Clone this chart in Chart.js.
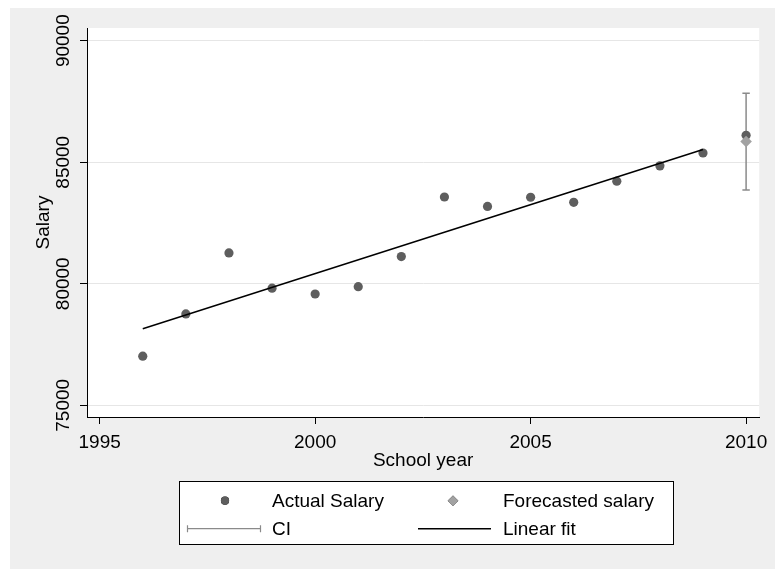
<!DOCTYPE html>
<html>
<head>
<meta charset="utf-8">
<script src="https://cdn.jsdelivr.net/npm/chart.js@4/dist/chart.umd.min.js"></script>
<style>
  html, body { margin: 0; padding: 0; background: #efefef; overflow: hidden; }
  #wrap { position: absolute; left: 10px; top: 8px; width: 765px; height: 561px; overflow: hidden; }
  #myChart { display: block; }
  .edgeTop { position: fixed; left: 0; top: 0; right: 0; height: 8px; background: #fff; }
  .edgeLeft { position: fixed; left: 0; top: 0; bottom: 0; width: 10px; background: #fff; }
</style>
</head>
<body>
<div class="edgeTop"></div>
<div class="edgeLeft"></div>
<div id="wrap"><canvas id="myChart" width="765" height="561"></canvas></div>
<script>
// data
const years = [1996, 1997, 1998, 1999, 2000, 2001, 2002, 2003, 2004, 2005, 2006, 2007, 2008, 2009, 2010];
const actualSalary = [77020, 78760, 81270, 79820, 79580, 79880, 81120, 83570, 83180, 83560, 83350, 84220, 84850, 85380, 86110];
const forecastYears = [2010];
const forecastSalary = [85850];
const ciLow = [83860];
const ciHigh = [87840];
const fitYears = [1996, 2009];
const fitSalary = [78150, 85520];
const xTicks = [1995, 2000, 2005, 2010];
const yTicks = [75000, 80000, 85000, 90000];

Chart.defaults.font.family = '"Liberation Sans", Arial, sans-serif';
Chart.defaults.font.size = 19;
Chart.defaults.color = '#000';

// gray outer area + white plot region
const bgPlugin = {
  id: 'bg',
  beforeDraw(chart) {
    const c = chart.ctx, a = chart.chartArea;
    c.save();
    c.fillStyle = '#efefef';
    c.fillRect(0, 0, chart.width, chart.height);
    c.fillStyle = '#fff';
    c.fillRect(a.left, a.top, a.right - a.left, a.bottom - a.top);
    c.restore();
  }
};

// stata style legend box, 2 columns
const legendPlugin = {
  id: 'stataLegend',
  afterDraw(chart) {
    const c = chart.ctx;
    const ds = chart.data.datasets;
    c.save();
    c.fillStyle = '#fff';
    c.fillRect(169.5, 473.5, 494, 63);
    c.strokeStyle = '#000';
    c.lineWidth = 1;
    c.strokeRect(169.5, 473.5, 494, 63);

    const rows = [492.7, 520.7];
    const symX = [215, 443];
    const txtX = [262, 493];
    c.font = '19px "Liberation Sans", Arial, sans-serif';
    c.fillStyle = '#000';
    c.textBaseline = 'middle';
    c.textAlign = 'left';
    ds.forEach(function (d, i) {
      const col = i % 2, row = Math.floor(i / 2);
      const y = rows[row];
      if (d.label == 'CI') {
        c.strokeStyle = d.borderColor;
        c.lineWidth = 1.2;
        c.beginPath();
        c.moveTo(177, y); c.lineTo(251, y);
        c.moveTo(177.5, y - 3.5); c.lineTo(177.5, y + 3.5);
        c.moveTo(250.5, y - 3.5); c.lineTo(250.5, y + 3.5);
        c.stroke();
      } else if (d.label == 'Linear fit') {
        c.strokeStyle = d.borderColor;
        c.lineWidth = 1.5;
        c.beginPath();
        c.moveTo(408, y); c.lineTo(481, y);
        c.stroke();
      } else {
        Chart.helpers.drawPoint(c, {
          pointStyle: d.pointStyle, radius: d.pointRadius - 0.5, borderWidth: 0, rotation: 0
        }, symX[col], y);
        c.fillStyle = d.backgroundColor;
        c.fill();
      }
      c.fillStyle = '#000';
      c.fillText(d.label, txtX[col], y + 1);
    });
    c.restore();
  }
};

const toPts = (xs, ys) => xs.map((x, i) => ({ x: x, y: ys[i] }));

const ctx = document.getElementById('myChart').getContext('2d');
const newChart = new Chart(ctx, {
  type: 'scatter',
  data: {
    datasets: [
      {
        label: 'Actual Salary',
        data: toPts(years, actualSalary),
        pointStyle: 'circle',
        pointRadius: 4.6,
        backgroundColor: '#5e5e5e',
        borderWidth: 0,
        order: 2
      },
      {
        label: 'Forecasted salary',
        data: toPts(forecastYears, forecastSalary),
        pointStyle: 'rectRot',
        pointRadius: 5.8,
        backgroundColor: '#a2a2a2',
        borderWidth: 0,
        order: 1
      },
      {
        label: 'CI',
        data: [{ x: forecastYears[0], y: ciLow[0] }, { x: forecastYears[0], y: ciHigh[0] }],
        showLine: true,
        borderColor: '#8a8a8a',
        borderWidth: 1.5,
        pointStyle: 'line',
        pointRadius: 3.7,
        pointBorderColor: '#8a8a8a',
        pointBorderWidth: 1.5,
        order: 3
      },
      {
        label: 'Linear fit',
        data: toPts(fitYears, fitSalary),
        showLine: true,
        borderColor: '#000',
        borderWidth: 1.5,
        pointRadius: 0,
        order: 0
      }
    ]
  },
  options: {
    responsive: false,
    animation: false,
    devicePixelRatio: 1,
    events: [],
    layout: { padding: { left: 0, top: 20, right: 9, bottom: 92 } },
    plugins: { legend: { display: false }, tooltip: { enabled: false } },
    scales: {
      x: {
        type: 'linear',
        min: 1994.706,
        max: 2010.305,
        afterBuildTicks: s => { s.ticks = xTicks.map(v => ({ value: v })); },
        afterFit: s => { s.height = 60; },
        grid: { drawOnChartArea: false, tickLength: 7, tickColor: '#000', color: '#000' },
        border: { color: '#000', width: 1 },
        ticks: { padding: 7.6, maxRotation: 0, autoSkip: false, color: '#000', callback: v => String(v) },
        title: { display: true, text: 'School year', color: '#000', padding: { top: 0, bottom: 4.6 } }
      },
      y: {
        type: 'linear',
        min: 74519,
        max: 90522,
        afterBuildTicks: s => { s.ticks = yTicks.map(v => ({ value: v })); },
        afterFit: s => { s.width = 77; },
        grid: { color: '#e6e6e6', tickLength: 7, tickColor: '#000' },
        border: { color: '#000', width: 1 },
        ticks: { minRotation: 90, maxRotation: 90, crossAlign: 'center', padding: -10.6, autoSkip: false, color: '#000', callback: v => String(v) },
        title: { display: true, text: 'Salary', color: '#000', padding: { top: 21.9, bottom: 0 } }
      }
    }
  },
  plugins: [bgPlugin, legendPlugin]
});
</script>
</body>
</html>
